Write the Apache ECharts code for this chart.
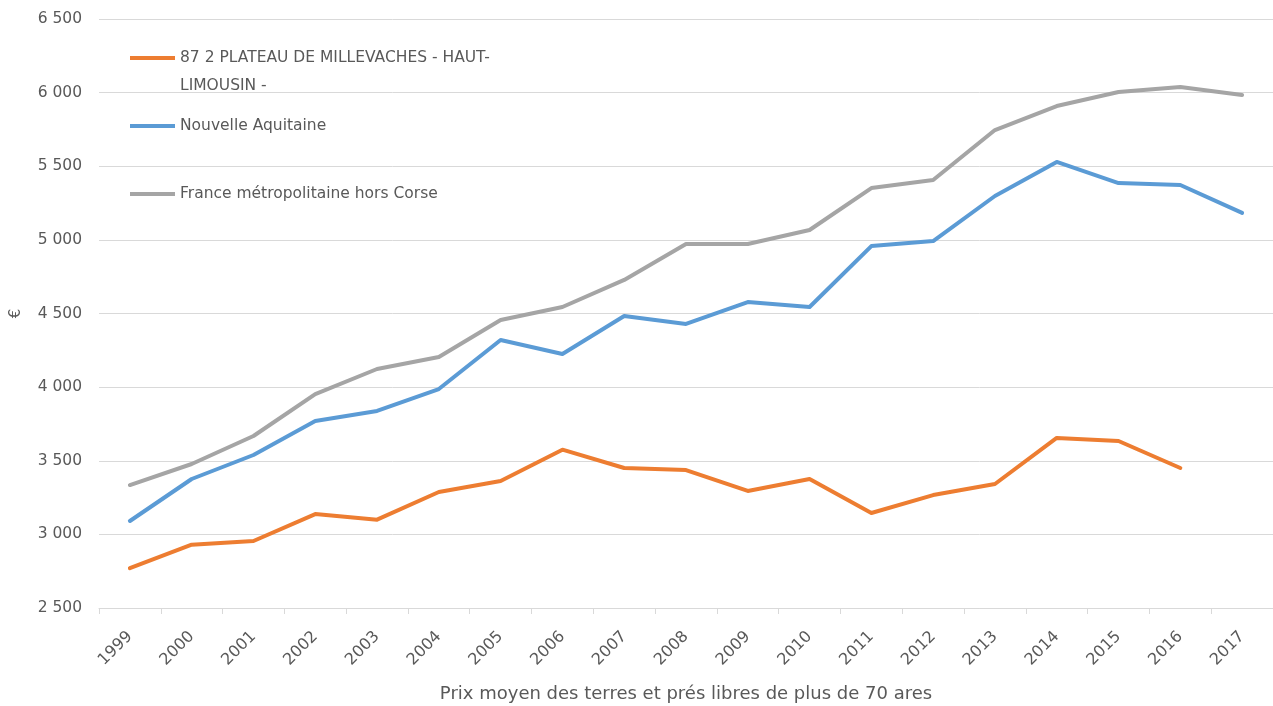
<!DOCTYPE html>
<html><head><meta charset="utf-8">
<script src="https://cdn.jsdelivr.net/npm/echarts@6/dist/echarts.min.js"></script>
<style>html,body{margin:0;padding:0;background:#fff}#c{width:1273px;height:706px}</style>
</head><body><div id="c"></div>
<script>
const years = ['1999','2000','2001','2002','2003','2004','2005','2006','2007','2008','2009','2010','2011','2012','2013','2014','2015','2016','2017'];
const nameMillevaches = '87 2 PLATEAU DE MILLEVACHES - HAUT-LIMOUSIN -';
const nameAquitaine = 'Nouvelle Aquitaine';
const nameFrance = 'France métropolitaine hors Corse';
const millevaches = [2770,2930,2955,3138,3100,3288,3362,3575,3451,3437,3295,3376,3145,3267,3342,3655,3634,3451,null];
const aquitaine = [3091,3376,3539,3770,3838,3987,4320,4225,4483,4429,4578,4544,4958,4992,5298,5529,5386,5373,5183];
const france = [3335,3478,3668,3953,4123,4205,4456,4544,4728,4972,4972,5067,5352,5407,5746,5909,6004,6038,5984];
const yTicks = [2500,3000,3500,4000,4500,5000,5500,6000,6500];
const xTitle = 'Prix moyen des terres et prés libres de plus de 70 ares';
const yTitle = '€';

const font = 'DejaVu Sans';
const txt = '#595959';
const fmt = v => String(v).replace(/\B(?=(\d{3})+(?!\d))/g, ' ');
const legendBase = {
  orient: 'vertical', left: 125, icon: 'rect', itemWidth: 45, itemHeight: 4,
  textStyle: {color: txt, fontFamily: font, fontSize: 15.5, lineHeight: 28}
};
const chart = echarts.init(document.getElementById('c'));
chart.setOption({
  animation: false,
  backgroundColor: '#fff',
  color: ['#ED7D31', '#5B9BD5', '#A5A5A5'],
  grid: {left: 99, right: 0, top: 19, bottom: 98, containLabel: false, outerBoundsMode: 'none'},
  legend: [
    Object.assign({}, legendBase, {top: 11, data: [nameMillevaches],
      formatter: n => '\n87 2 PLATEAU DE MILLEVACHES - HAUT-\nLIMOUSIN -'}),
    Object.assign({}, legendBase, {top: 107, data: [nameAquitaine]}),
    Object.assign({}, legendBase, {top: 175, data: [nameFrance]})
  ],
  xAxis: {
    type: 'category', data: years, boundaryGap: true,
    name: xTitle, nameLocation: 'middle', nameGap: 77,
    nameTextStyle: {color: txt, fontFamily: font, fontSize: 18},
    axisLine: {lineStyle: {color: '#d9d9d9', width: 1}},
    axisTick: {show: true, alignWithLabel: false, length: 6, lineStyle: {color: '#d9d9d9'}},
    axisLabel: {rotate: 45, color: txt, fontFamily: font, fontSize: 16, margin: 26, interval: 0}
  },
  yAxis: {
    type: 'value', min: 2500, max: 6500, interval: 500,
    name: yTitle, nameLocation: 'middle', nameGap: 75,
    nameTextStyle: {color: txt, fontFamily: font, fontSize: 15},
    axisLine: {show: false}, axisTick: {show: false},
    splitLine: {lineStyle: {color: '#d9d9d9', width: 1}},
    axisLabel: {color: txt, fontFamily: font, fontSize: 15.5, margin: 17,
      formatter: v => yTicks.includes(v) ? fmt(v) : ''}
  },
  series: [
    {name: nameMillevaches, type: 'line', data: millevaches, showSymbol: false, symbol: 'none',
      lineStyle: {width: 4, cap: 'round', join: 'round'}},
    {name: nameAquitaine, type: 'line', data: aquitaine, showSymbol: false, symbol: 'none',
      lineStyle: {width: 4, cap: 'round', join: 'round'}},
    {name: nameFrance, type: 'line', data: france, showSymbol: false, symbol: 'none',
      lineStyle: {width: 4, cap: 'round', join: 'round'}}
  ]
});
</script></body></html>
